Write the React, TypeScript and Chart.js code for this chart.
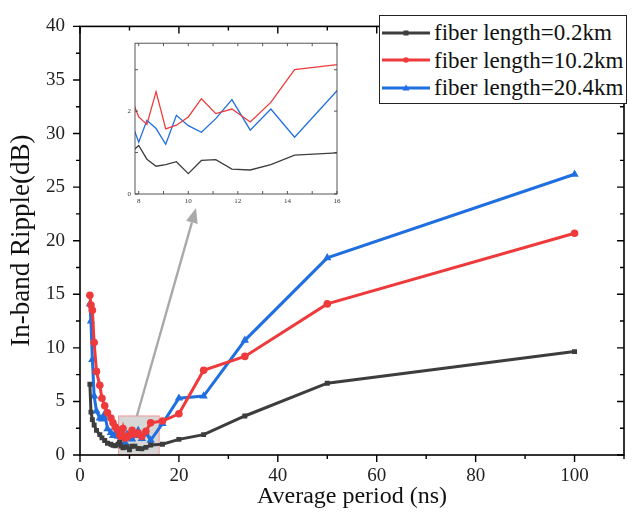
import React, { useEffect, useRef } from "react";
import { Chart, registerables } from "chart.js";
Chart.register(...registerables);

// ---- data ----
const periods = [2, 2.22, 2.5, 2.86, 3.33, 4, 4.44, 5, 5.56, 6.25, 6.67, 7.14, 7.69, 8, 8.33, 8.7, 9.09, 9.52, 10, 10.53, 11.11, 11.76, 12.5, 13.33, 14.29, 16.67, 20, 25, 33.33, 50, 100];
const ripple02km = [6.6, 4.0, 3.3, 2.8, 2.3, 1.9, 1.6, 1.35, 1.1, 1.0, 0.9, 0.85, 1.0, 1.17, 0.84, 0.67, 0.71, 0.78, 0.49, 0.81, 0.83, 0.6, 0.58, 0.71, 0.94, 1.01, 1.46, 1.9, 3.64, 6.7, 9.65];
const ripple102km = [14.9, 14.0, 13.5, 10.5, 7.8, 6.5, 5.3, 4.6, 3.95, 3.45, 3.0, 2.6, 2.33, 1.86, 1.68, 2.47, 1.57, 1.66, 1.86, 2.3, 1.94, 2.05, 1.74, 2.21, 3.0, 3.17, 3.85, 7.9, 9.2, 14.1, 20.7];
const ripple204km = [14.1, 12.5, 8.9, 5.5, 4.1, 3.45, 3.35, 3.85, 2.45, 2.1, 1.8, 2.0, 1.75, 1.25, 1.78, 1.58, 1.2, 1.9, 1.65, 1.49, 1.82, 2.28, 1.54, 2.05, 1.37, 2.93, 5.3, 5.5, 10.7, 18.4, 26.2];
const seriesLabels = ["fiber length=0.2km", "fiber length=10.2km", "fiber length=20.4km"];

const xMajorTicks = [0, 20, 40, 60, 80, 100];
const xMinorTicks = [10, 30, 50, 70, 90, 110];
const yMajorTicks = [0, 5, 10, 15, 20, 25, 30, 35, 40];
const yMinorTicks = [2.5, 7.5, 12.5, 17.5, 22.5, 27.5, 32.5, 37.5];
const insetXLabels = [8, 10, 12, 14, 16];
const insetXTickMarks = [8, 9, 10, 11, 12, 13, 14, 15, 16];
const insetYLabels = [0, 2];
const insetYTickMarks = [0, 1, 2, 3];
const zoomBox = { x0: 7.8, x1: 16, y0: 0, y1: 3.64 };

const COLORS = ["#3d3d3d", "#ef3a3c", "#1f6fe0"];
const STYLES = ["rect", "circle", "triangle"] as const;
const RADII = [3.5, 3.8, 4.8];
const FONT = "'Liberation Serif', 'Times New Roman', serif";
const seriesValues = [ripple02km, ripple102km, ripple204km];

Chart.defaults.font.family = FONT;

const toXY = (vals: number[]) => periods.map((p, i) => ({ x: p, y: vals[i] }));

const mainDecor = {
  id: "mainDecor",
  beforeDatasetsDraw(chart: any) {
    const { ctx, scales } = chart;
    const { x, y } = scales;
    const l = x.getPixelForValue(zoomBox.x0), r = x.getPixelForValue(zoomBox.x1);
    const t = y.getPixelForValue(zoomBox.y1), b = y.getPixelForValue(zoomBox.y0);
    ctx.save();
    ctx.fillStyle = "rgba(205,205,205,0.8)";
    ctx.fillRect(l, t, r - l, b - t);
    ctx.strokeStyle = "#f0a2a2";
    ctx.lineWidth = 1.2;
    ctx.strokeRect(l, t, r - l, b - t);
    ctx.restore();
  },
  afterDraw(chart: any) {
    const { ctx, chartArea: a, scales } = chart;
    const { x, y } = scales;
    ctx.save();
    ctx.strokeStyle = "#000";
    ctx.lineWidth = 1.6;
    ctx.strokeRect(a.left, a.top, a.right - a.left, a.bottom - a.top);
    ctx.lineWidth = 1.4;
    const xt = (v: number, len: number) => {
      const px = x.getPixelForValue(v);
      ctx.beginPath();
      ctx.moveTo(px, a.bottom); ctx.lineTo(px, a.bottom + len);
      ctx.moveTo(px, a.top); ctx.lineTo(px, a.top + len);
      ctx.stroke();
    };
    const yt = (v: number, len: number) => {
      const py = y.getPixelForValue(v);
      ctx.beginPath();
      ctx.moveTo(a.left, py); ctx.lineTo(a.left - len, py);
      ctx.moveTo(a.right, py); ctx.lineTo(a.right - len, py);
      ctx.stroke();
    };
    xMajorTicks.forEach((v) => xt(v, 7));
    xMinorTicks.forEach((v) => xt(v, 4));
    yMajorTicks.forEach((v) => yt(v, 7));
    yMinorTicks.forEach((v) => yt(v, 4));
    // arrow from zoom box to inset
    const sx = x.getPixelForValue(11.5), sy = y.getPixelForValue(zoomBox.y1);
    const ex = 196, ey = 208;
    const ang = Math.atan2(ey - sy, ex - sx);
    const hl = 15, hw = 6;
    const bx = ex - hl * Math.cos(ang), by = ey - hl * Math.sin(ang);
    ctx.strokeStyle = "#a9a9a9";
    ctx.fillStyle = "#a9a9a9";
    ctx.lineWidth = 2.4;
    ctx.beginPath(); ctx.moveTo(sx, sy); ctx.lineTo(bx, by); ctx.stroke();
    ctx.beginPath();
    ctx.moveTo(ex, ey);
    ctx.lineTo(bx + hw * Math.sin(ang), by - hw * Math.cos(ang));
    ctx.lineTo(bx - hw * Math.sin(ang), by + hw * Math.cos(ang));
    ctx.closePath(); ctx.fill();
    ctx.restore();
  },
};

const insetDecor = {
  id: "insetDecor",
  afterDraw(chart: any) {
    const { ctx, chartArea: a, scales } = chart;
    const { x, y } = scales;
    ctx.save();
    ctx.strokeStyle = "#444";
    ctx.lineWidth = 0.9;
    ctx.strokeRect(a.left, a.top, a.right - a.left, a.bottom - a.top);
    ctx.beginPath();
    insetXTickMarks.forEach((v) => {
      const px = x.getPixelForValue(v);
      ctx.moveTo(px, a.bottom); ctx.lineTo(px, a.bottom - 3);
      ctx.moveTo(px, a.top); ctx.lineTo(px, a.top + 3);
    });
    insetYTickMarks.forEach((v) => {
      const py = y.getPixelForValue(v);
      ctx.moveTo(a.left, py); ctx.lineTo(a.left + 3, py);
      ctx.moveTo(a.right, py); ctx.lineTo(a.right - 3, py);
    });
    ctx.stroke();
    ctx.restore();
  },
};

const hiddenGrid = { display: false, drawTicks: false };

function MainChart() {
  const ref = useRef<HTMLCanvasElement>(null);
  useEffect(() => {
    const chart = new Chart(ref.current!, {
      type: "line",
      data: {
        datasets: seriesValues.map((vals, i) => ({
          label: seriesLabels[i],
          data: toXY(vals),
          borderColor: COLORS[i],
          backgroundColor: COLORS[i],
          pointBackgroundColor: COLORS[i],
          pointBorderColor: COLORS[i],
          pointStyle: STYLES[i],
          pointRadius: RADII[i],
          pointBorderWidth: 0,
          borderWidth: 3,
          tension: 0,
        })),
      },
      options: {
        responsive: false,
        animation: false,
        layout: { padding: { top: 16, right: 10, left: 0, bottom: 0 } },
        plugins: { legend: { display: false }, tooltip: { enabled: false } },
        scales: {
          x: {
            type: "linear",
            min: 0,
            max: 110,
            grid: hiddenGrid,
            border: { display: false },
            afterBuildTicks: (s: any) => { s.ticks = xMajorTicks.map((v) => ({ value: v })); },
            afterFit: (s: any) => { s.height = 61; },
            ticks: { color: "#222", font: { family: FONT, size: 19 }, padding: 10, maxRotation: 0 },
            title: { display: true, text: "Average period (ns)", color: "#111", font: { family: FONT, size: 24 }, padding: { top: 0, bottom: 5 } },
          },
          y: {
            type: "linear",
            min: 0,
            max: 40,
            grid: hiddenGrid,
            border: { display: false },
            afterBuildTicks: (s: any) => { s.ticks = yMajorTicks.map((v) => ({ value: v })); },
            afterFit: (s: any) => { s.width = 80; },
            ticks: { color: "#222", font: { family: FONT, size: 19 }, padding: 15 },
            title: { display: true, text: "In-band Ripple(dB)", color: "#111", font: { family: FONT, size: 27 }, padding: { top: 6, bottom: 0 } },
          },
        },
      },
      plugins: [mainDecor],
    } as any);
    return () => chart.destroy();
  }, []);
  return <canvas ref={ref} width={634} height={516} style={{ position: "absolute", left: 0, top: 0 }} />;
}

function InsetChart() {
  const ref = useRef<HTMLCanvasElement>(null);
  useEffect(() => {
    const chart = new Chart(ref.current!, {
      type: "line",
      data: {
        datasets: seriesValues.map((vals, i) => ({
          label: seriesLabels[i],
          data: toXY(vals),
          borderColor: COLORS[i],
          pointRadius: 0,
          borderWidth: 1.3,
          tension: 0,
        })),
      },
      options: {
        responsive: false,
        animation: false,
        layout: { padding: { top: 8, right: 13, left: 0, bottom: 0 } },
        plugins: { legend: { display: false }, tooltip: { enabled: false } },
        scales: {
          x: {
            type: "linear",
            min: 7.85,
            max: 16,
            grid: hiddenGrid,
            border: { display: false },
            afterBuildTicks: (s: any) => { s.ticks = insetXLabels.map((v) => ({ value: v })); },
            afterFit: (s: any) => { s.height = 16; },
            ticks: { color: "#333", font: { family: FONT, size: 7 }, padding: 3, maxRotation: 0 },
          },
          y: {
            type: "linear",
            min: 0,
            max: 3.64,
            grid: hiddenGrid,
            border: { display: false },
            afterBuildTicks: (s: any) => { s.ticks = insetYLabels.map((v) => ({ value: v })); },
            afterFit: (s: any) => { s.width = 25; },
            ticks: { color: "#333", font: { family: FONT, size: 7 }, padding: 4 },
          },
        },
      },
      plugins: [insetDecor],
    } as any);
    return () => chart.destroy();
  }, []);
  return <canvas ref={ref} width={240} height={175} style={{ position: "absolute", left: 110, top: 35 }} />;
}

function LegendMarker({ i }: { i: number }) {
  const c = COLORS[i];
  return (
    <svg width={48} height={10} style={{ display: "block", flex: "none" }}>
      <line x1={0} y1={5} x2={48} y2={5} stroke={c} strokeWidth={3} />
      {i === 0 && <rect x={21.5} y={2.5} width={5} height={5} fill={c} />}
      {i === 1 && <circle cx={24} cy={5} r={2.8} fill={c} />}
      {i === 2 && <polygon points="24,1.5 27.5,7.5 20.5,7.5" fill={c} />}
    </svg>
  );
}

function Legend() {
  return (
    <div
      style={{
        position: "absolute",
        left: 379,
        top: 15,
        width: 248,
        height: 89,
        boxSizing: "border-box",
        border: "1.3px solid #222",
        background: "#fff",
        padding: "3px 0 0 2px",
        fontFamily: FONT,
        fontSize: 23,
        color: "#111",
      }}
    >
      {seriesLabels.map((lab, i) => (
        <div key={lab} style={{ display: "flex", alignItems: "center", height: 27.5, whiteSpace: "nowrap" }}>
          <LegendMarker i={i} />
          <span style={{ marginLeft: 4, lineHeight: "27px" }}>{lab}</span>
        </div>
      ))}
    </div>
  );
}

export default function App() {
  return (
    <div style={{ position: "fixed", left: 0, top: 0, width: 634, height: 516, background: "#fff" }}>
      <MainChart />
      <InsetChart />
      <Legend />
    </div>
  );
}
